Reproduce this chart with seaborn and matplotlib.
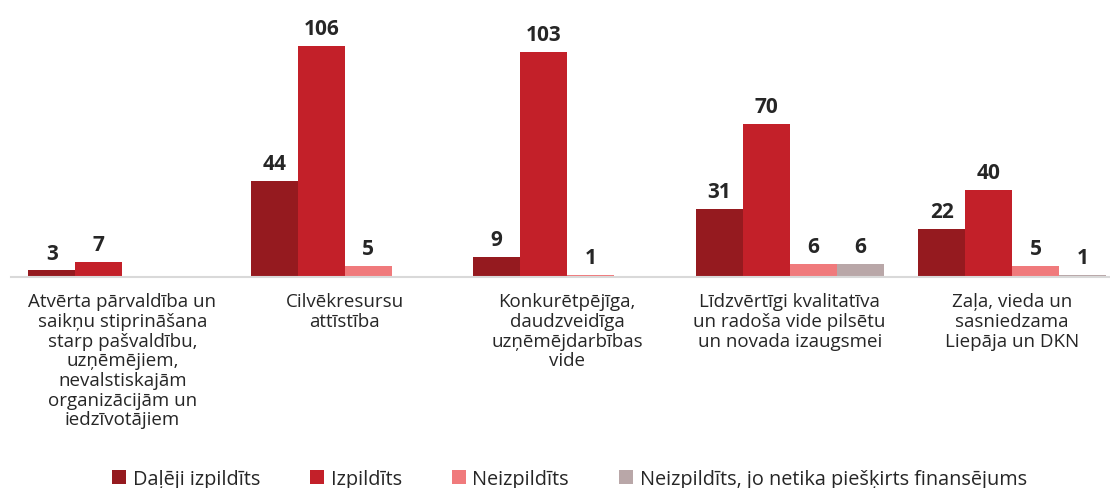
import pandas as pd
import matplotlib.pyplot as plt
import seaborn as sns

# Data
categories = [
    "Atvērta pārvaldība un\nsaikņu stiprināšana\nstarp pašvaldību,\nuzņēmējiem,\nnevalstiskajām\norganizācijām un\niedzīvotājiem",
    "Cilvēkresursu\nattīstība",
    "Konkurētpējīga,\ndaudzveidīga\nuzņēmējdarbības\nvide",
    "Līdzvērtīgi kvalitatīva\nun radoša vide pilsētu\nun novada izaugsmei",
    "Zaļa, vieda un\nsasniedzama\nLiepāja un DKN",
]
series = [
    "Daļēji izpildīts",
    "Izpildīts",
    "Neizpildīts",
    "Neizpildīts, jo netika piešķirts finansējums",
]
dalaji = [3, 44, 9, 31, 22]
izpildits = [7, 106, 103, 70, 40]
neizpildits = [0, 5, 1, 6, 5]
nav_finansejuma = [0, 0, 0, 6, 1]

colors = ["#951a1f", "#c32029", "#f07a7c", "#b9a7a8"]

rows = []
for s, vals in zip(series, [dalaji, izpildits, neizpildits, nav_finansejuma]):
    for c, v in zip(categories, vals):
        rows.append({"Kategorija": c, "Statuss": s, "Skaits": v})
df = pd.DataFrame(rows)

sns.set_style("white")
plt.rcParams['font.family'] = ['Open Sans', 'DejaVu Sans']

fig = plt.figure(figsize=(11.1, 4.89), dpi=100)
ax = fig.add_axes([0.010, 0.4315, 0.99, 0.535])

sns.barplot(data=df, x="Kategorija", y="Skaits", hue="Statuss",
            palette=colors, width=0.845, gap=0, linewidth=0,
            saturation=1, ax=ax, legend=True)

# value labels (skip zeros)
for container in ax.containers:
    labels = [f"{int(b.get_height())}" if b.get_height() > 0 else "" for b in container]
    ax.bar_label(container, labels=labels, padding=5, fontsize=15,
                 fontweight='bold', color='#262626')

ax.set_xlim(-0.5, 4.44)
ax.set_ylim(0, 120)
ax.set_yticks([])
ax.set_xlabel("")
ax.set_ylabel("")
for side in ["top", "right", "left"]:
    ax.spines[side].set_visible(False)
ax.spines["bottom"].set_color("#d9d9d9")
ax.spines["bottom"].set_linewidth(1.5)
ax.tick_params(axis='x', length=0, pad=11, labelsize=13.5, labelcolor='#262626')
for t in ax.get_xticklabels():
    t.set_linespacing(1.12)
    t.set_verticalalignment('top')

handles, labels = ax.get_legend_handles_labels()
ax.get_legend().remove()
fig.legend(handles, labels, loc='center', bbox_to_anchor=(0.513, 0.019),
           ncol=4, frameon=False, fontsize=14.3,
           handlelength=0.7, handleheight=0.7, handletextpad=0.35,
           columnspacing=2.5, labelcolor='#262626')

fig.savefig("out.png", dpi=100)
